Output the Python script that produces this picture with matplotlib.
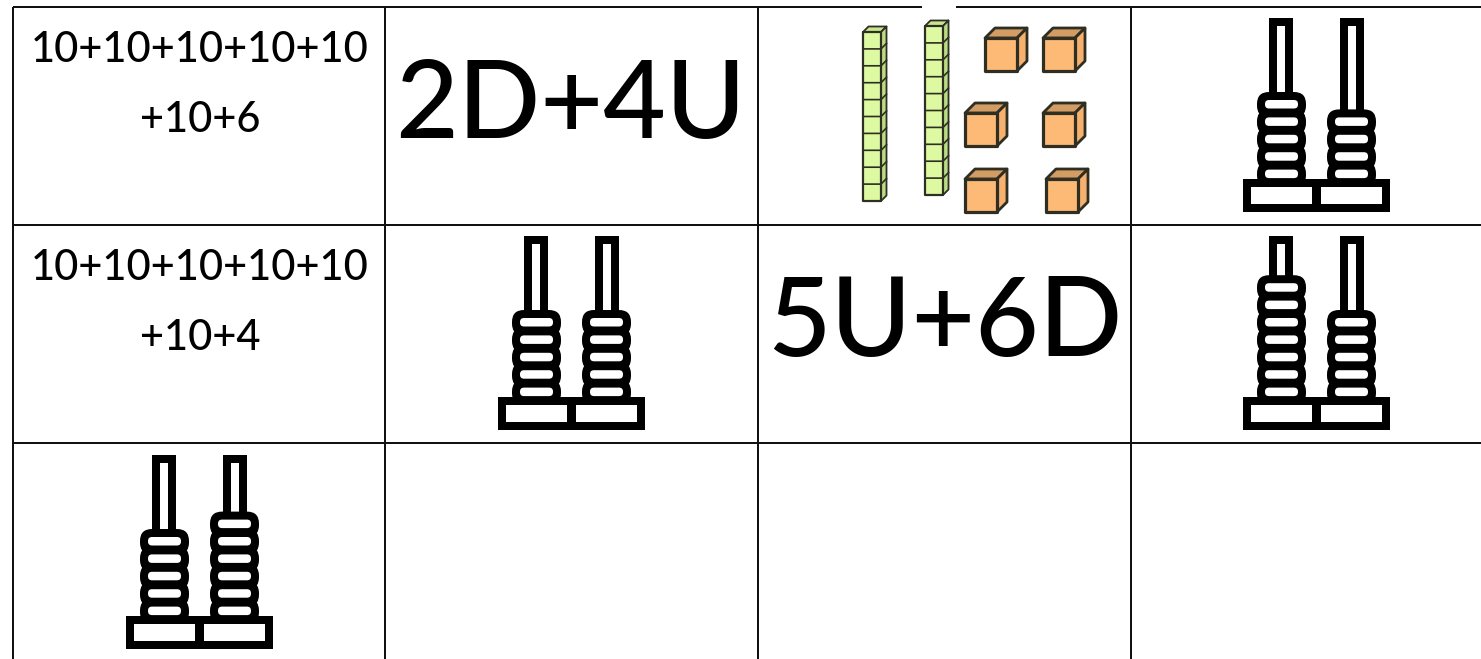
"""Place-value worksheet grid: sums, tens/units text, base-ten blocks and abacuses."""

import matplotlib

matplotlib.use("Agg")
import matplotlib.pyplot as plt
from matplotlib.patches import FancyBboxPatch, Polygon, Rectangle

# grid lines, in picture pixels
col_edges = [13, 385, 758, 1131]
row_edges = [7, 225, 443]

# long sums in the first column
sum_lines = ["10+10+10+10+10", "+10+6", "10+10+10+10+10", "+10+4"]
sum_baselines = [62, 132, 280, 350]

# short tens/units labels
short_labels = ["2D+4U", "5U+6D"]
short_centres = [571, 945]
short_baselines = [138, 356]
short_sizes = [78, 79]

# beads on (left rod, right rod) of each abacus
abacus_beads = [(5, 4), (5, 5), (7, 5), (5, 6)]
abacus_left = [1243, 498, 1243, 126]
abacus_base_top = [179, 397, 397, 616]

# base-ten blocks in the picture at the top of column three
ten_rods = [(863, 32), (925, 26)]
rod_units = 10
unit_cubes = [(985, 38), (1043, 38), (965, 113), (1043, 113), (965, 179), (1046, 179)]

PT = 0.72  # px to points at dpi 100
EDGE = "#2e2e22"


def cuboid(ax, x, y, w, h, d, front, top, side, lw=2.0):
    ax.add_patch(Polygon([(x, y), (x + d, y - d), (x + w + d, y - d), (x + w, y)],
                         fc=top, ec=EDGE, lw=lw, joinstyle="round"))
    ax.add_patch(Polygon([(x + w, y), (x + w + d, y - d), (x + w + d, y + h - d), (x + w, y + h)],
                         fc=side, ec=EDGE, lw=lw, joinstyle="round"))
    ax.add_patch(Rectangle((x, y), w, h, fc=front, ec=EDGE, lw=lw + 0.3, joinstyle="round"))


def draw_rod(ax, x, y, units):
    w, unit_h, d = 18, 16.9, 5.5
    cuboid(ax, x, y, w, units * unit_h, d, "#ddf9a2", "#c9e58f", "#bcdc84", lw=1.3)
    for i in range(1, units):
        yy = y + i * unit_h
        ax.plot([x, x + w, x + w + d], [yy, yy, yy - d], color=EDGE, lw=1.2)


def draw_abacus(ax, left, base_top, beads):
    pitch = 17.4
    for rod_x, bead_x, n in zip((26, 97), (14, 84), beads):
        bead_top = base_top - n * pitch
        # rod
        ax.add_patch(Rectangle((left + rod_x, base_top - 161), 24, 161 - n * pitch + 4, fc="black", lw=0))
        ax.add_patch(Rectangle((left + rod_x + 8, base_top - 161 + 8), 8, 161 - n * pitch - 4, fc="white", lw=0))
        # beads: black bodies first, holes on top
        for i in range(n):
            y = bead_top + i * pitch
            ax.add_patch(FancyBboxPatch((left + bead_x + 12, y + 12), 25, 1.5,
                                        boxstyle="round,pad=12,rounding_size=12", fc="black", lw=0))
        for i in range(n):
            y = bead_top + i * pitch
            ax.add_patch(FancyBboxPatch((left + bead_x + 12, y + 12), 25, 0.5,
                                        boxstyle="round,pad=4,rounding_size=4", fc="white", lw=0))
    # base with its two cells
    ax.add_patch(Rectangle((left, base_top), 147, 33, fc="black", lw=0))
    ax.add_patch(Rectangle((left + 8, base_top + 8), 61, 16.5, fc="white", lw=0))
    ax.add_patch(Rectangle((left + 78, base_top + 8), 61, 16.5, fc="white", lw=0))


fig = plt.figure(figsize=(14.81, 6.59), dpi=100, facecolor="white")
ax = fig.add_axes([0, 0, 1, 1])
ax.set_xlim(0, 1481)
ax.set_ylim(659, 0)
ax.axis("off")

line_kw = dict(color="#111111", lw=2 * PT, solid_capstyle="butt")
for x in col_edges:
    ax.plot([x, x], [row_edges[0], 659], **line_kw)
for y in row_edges[1:]:
    ax.plot([col_edges[0], 1481], [y, y], **line_kw)
ax.plot([col_edges[0], 922], [row_edges[0]] * 2, **line_kw)
ax.plot([956, 1481], [row_edges[0]] * 2, **line_kw)

for line, base in zip(sum_lines, sum_baselines):
    ax.text(200, base, line, family="Lato", fontsize=30, weight="medium", color="black",
            ha="center", va="baseline")
for label, cx, base, size in zip(short_labels, short_centres, short_baselines, short_sizes):
    ax.text(cx, base, label, family="Lato", fontsize=size, weight="medium", color="black",
            ha="center", va="baseline")

for x, y in ten_rods:
    draw_rod(ax, x, y, rod_units)
for x, y in unit_cubes:
    cuboid(ax, x, y, 32, 33, 10, "#fdb976", "#d39c63", "#f6b16e")

for beads, left, top in zip(abacus_beads, abacus_left, abacus_base_top):
    draw_abacus(ax, left, top, beads)

fig.savefig("out.png", dpi=100)
plt.close(fig)
